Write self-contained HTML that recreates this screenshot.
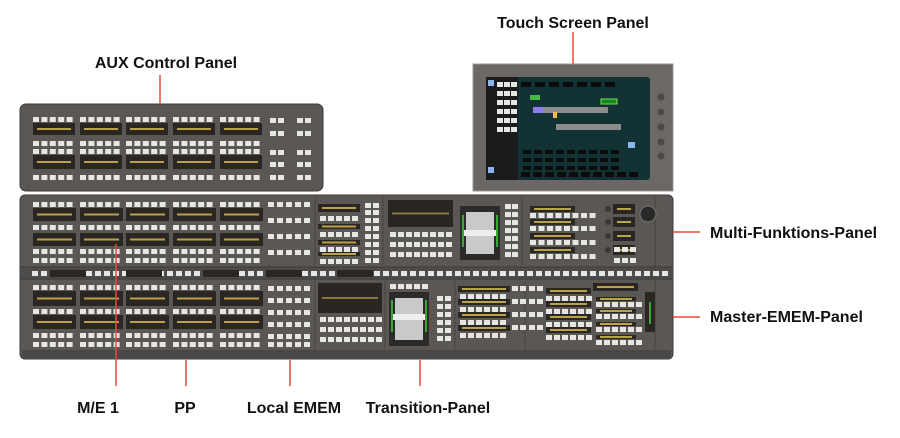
<!DOCTYPE html>
<html><head><meta charset="utf-8"><style>
body{margin:0;background:#fff;width:900px;height:438px;overflow:hidden}
svg{display:block}
.l{font-family:"Liberation Sans",sans-serif;font-weight:bold;font-size:16px;fill:#111}
</style></head><body>
<svg id="s" width="900" height="438" viewBox="0 0 900 438" xmlns="http://www.w3.org/2000/svg">
<rect x="20" y="104" width="303" height="87" rx="6" fill="#5a5755" stroke="#3c3a38"/>
<rect x="20" y="195" width="653" height="164" rx="5" fill="#5a5755" stroke="#3c3a38"/>
<rect x="20" y="267" width="653" height="12" fill="#4e4c4a"/>
<line x1="20" y1="267" x2="673" y2="267" stroke="#3c3a38"/>
<line x1="20" y1="279" x2="673" y2="279" stroke="#3c3a38"/>
<rect x="22" y="350" width="649" height="8" fill="#4a4846"/>
<g stroke="#46443f"><line x1="315" y1="197" x2="315" y2="265"/><line x1="383" y1="197" x2="383" y2="265"/><line x1="522" y1="197" x2="522" y2="265"/><line x1="315" y1="281" x2="315" y2="350"/><line x1="385" y1="281" x2="385" y2="350"/><line x1="455" y1="281" x2="455" y2="350"/><line x1="525" y1="281" x2="525" y2="350"/><line x1="655" y1="197" x2="655" y2="350"/></g>
<rect x="460" y="206" width="40" height="54" fill="#2d2b29"/><rect x="466" y="212" width="28" height="42" fill="#c9c9c7"/><rect x="462" y="230" width="36" height="6" fill="#eee"/><rect x="462" y="215" width="2" height="32" fill="#3a3"/><rect x="496" y="215" width="2" height="32" fill="#3a3"/>
<rect x="389" y="292" width="40" height="54" fill="#2d2b29"/><rect x="395" y="298" width="28" height="42" fill="#c9c9c7"/><rect x="391" y="314" width="36" height="6" fill="#eee"/><rect x="391" y="300" width="2" height="32" fill="#3a3"/><rect x="425" y="300" width="2" height="32" fill="#3a3"/>
<rect x="473" y="64" width="200" height="127" fill="#6b6866" stroke="#9a9795"/>
<rect x="486" y="77" width="164" height="103" rx="3" fill="#123234"/>
<rect x="486" y="77" width="32" height="103" fill="#1b1b1b"/>
<rect x="488" y="80" width="6" height="6" fill="#8ab4ee"/><rect x="488" y="167" width="6" height="6" fill="#8ab4ee"/><rect x="628" y="142" width="7" height="6" fill="#8ab4ee"/>
<rect x="533" y="107" width="75" height="6" fill="#8c8c8c"/><rect x="556" y="124" width="65" height="6" fill="#8c8c8c"/><rect x="533" y="107" width="10" height="6" fill="#8e7cf0"/><rect x="553" y="112" width="4" height="6" fill="#f0c040"/><rect x="530" y="95" width="10" height="5" fill="#4b4"/><rect x="601" y="99" width="16" height="5" fill="#182" stroke="#7d4"/>
<g fill="#4b4a48"><circle cx="661" cy="97" r="3.5"/><circle cx="661" cy="112" r="3.5"/><circle cx="661" cy="127" r="3.5"/><circle cx="661" cy="142" r="3.5"/><circle cx="661" cy="156" r="3.5"/></g>
<circle cx="648" cy="214" r="8" fill="#2a2928" stroke="#777"/>
<g id="gen"></g>
<g stroke="#e8493c" stroke-width="1.5">
<line x1="573" y1="32" x2="573" y2="64"/>
<line x1="160" y1="75" x2="160" y2="104"/>
<line x1="673" y1="232" x2="700" y2="232"/>
<line x1="673" y1="317" x2="700" y2="317"/>
<line x1="116" y1="244" x2="116" y2="386"/>
<line x1="186" y1="360" x2="186" y2="386"/>
<line x1="290" y1="360" x2="290" y2="386"/>
<line x1="420" y1="360" x2="420" y2="386"/>
</g>
<text class="l" x="573" y="28" text-anchor="middle">Touch Screen Panel</text>
<text class="l" x="166" y="68" text-anchor="middle">AUX Control Panel</text>
<text class="l" x="710" y="238">Multi-Funktions-Panel</text>
<text class="l" x="710" y="322">Master-EMEM-Panel</text>
<text class="l" x="98" y="413" text-anchor="middle">M/E 1</text>
<text class="l" x="185" y="413" text-anchor="middle">PP</text>
<text class="l" x="294" y="413" text-anchor="middle">Local EMEM</text>
<text class="l" x="428" y="413" text-anchor="middle">Transition-Panel</text>
</svg>
<script>
var g=document.getElementById('gen'),h='';
function b(x,y,n,st){for(var i=0;i<n;i++)h+='<rect x="'+(x+i*(st||8.4))+'" y="'+y+'" width="6" height="5" fill="#e6e6e4"/>';}
function d(x,y,w,hh,c){h+='<rect x="'+x+'" y="'+y+'" width="'+w+'" height="'+hh+'" fill="#2a2622"/>';h+='<rect x="'+(x+4)+'" y="'+(y+hh/2-1)+'" width="'+(w-8)+'" height="2" fill="'+(c||'#b9a24a')+'"/>';}
var gx=[33,80,126,173,220];
gx.forEach(function(x){b(x,117,5);d(x,123,42,12);b(x,141,5);b(x,149,5);d(x,155,42,14);b(x,175,5);});
[118,131,150,162,175].forEach(function(y){b(270,y,2,8);b(297,y,2,8);});
gx.forEach(function(x){b(x,202,5);d(x,208,43,13);b(x,225,5);d(x,233,43,13);b(x,249,5);b(x,258,5);});
[202,210,218,226,234,242,250,258].forEach(function(y,i){if(i%2==0)b(268,y,5,9);});
[203,210,218,226,234,242,250,258].forEach(function(y){b(365,y,2,8);});
d(318,204,42,8);b(320,216,5,8);d(318,224,42,5);b(320,232,5,8);d(318,240,42,5);b(320,247,5,8);d(318,252,42,4);b(320,259,5,8);
d(388,200,65,27,'#8a7a40');b(390,232,8,8);b(390,242,8,8);b(390,252,8,8);
[204,212,220,228,236,244,252].forEach(function(y){b(505,y,2,7);});
[203,216,230,244].forEach(function(y){d(530,y+3,45,6);b(530,y+10,8,8.5);});
[203,216,230,244].forEach(function(y){h+='<circle cx="608" cy="'+(y+6)+'" r="3" fill="#3a3938"/>';d(613,y+1,22,10);});
b(614,247,3,8);b(614,258,3,8);
for(var x=32;x<670;x+=9)b(x,271,1);
[50,126,203,266,337].forEach(function(x){h+='<rect x="'+x+'" y="270" width="36" height="7" fill="#2a2622"/>';});
gx.forEach(function(x){b(x,285,5);d(x,291,43,15);b(x,309,5);d(x,315,43,14);b(x,333,5);b(x,342,5);});
[286,298,310,322,334,342].forEach(function(y){b(268,y,5,9);});
d(318,283,64,30,'#8a7a40');b(320,317,8,8);b(320,327,8,8);b(320,337,8,8);
b(390,284,5,8);[296,304,312,320,328,336].forEach(function(y){b(437,y,2,8);});
[286,299,312,325].forEach(function(y){d(458,y,52,6);b(460,y+8,6,8);b(512,y,2,8);});
[286,299,312,325].forEach(function(y){b(529,y,2,8);d(546,y+2,45,6);b(546,y+10,6,8);});
d(593,283,45,8);[300,312,325,338].forEach(function(y){d(596,y-3,40,4);b(596,y+2,6,8);});
h+='<rect x="645" y="292" width="10" height="40" fill="#2a2622"/><rect x="649" y="302" width="2" height="22" fill="#3a3"/>';
for(var r=0;r<6;r++)b(497,82+r*9,3,7);
for(var r=0;r<3;r++)for(var c=0;c<9;c++)h+='<rect x="'+(523+c*11)+'" y="'+(150+r*8)+'" width="8" height="4" fill="#0c0c0c"/>';
for(var c=0;c<10;c++)h+='<rect x="'+(521+c*12)+'" y="172" width="9" height="5" fill="#0c0c0c"/>';
for(var c=0;c<7;c++)h+='<rect x="'+(521+c*14)+'" y="82" width="10" height="5" fill="#0c0c0c"/>';
g.innerHTML=h;
</script>
</body></html>
